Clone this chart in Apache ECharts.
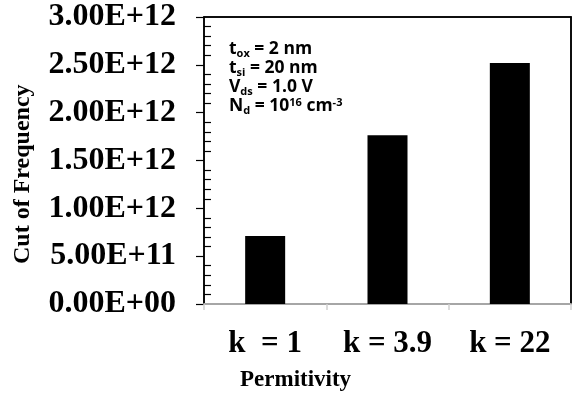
<!DOCTYPE html>
<html>
<head>
<meta charset="utf-8">
<script src="https://cdn.jsdelivr.net/npm/echarts@6/dist/echarts.min.js"></script>
<style>html,body{margin:0;padding:0;background:#fff}#c{width:573px;height:399px}</style>
</head>
<body>
<div id="c"></div>
<script>
var categories = ['k  = 1', 'k = 3.9', 'k = 22'];
var cutoffFrequency = [7.1e11, 1.765e12, 2.52e12];
var yTickLabels = ['0.00E+00', '5.00E+11', '1.00E+12', '1.50E+12', '2.00E+12', '2.50E+12', '3.00E+12'];
var xAxisTitle = 'Permitivity';
var yAxisTitle = 'Cut of Frequency';

var chart = echarts.init(document.getElementById('c'), null, {renderer: 'canvas'});
var serif = '"Liberation Serif", "Times New Roman", serif';
var option = {
  animation: false,
  backgroundColor: '#fff',
  grid: {left: 204, right: 2, top: 17, bottom: 95, containLabel: false, show: true, borderColor: '#000', borderWidth: 1.5, backgroundColor: 'transparent'},
  xAxis: [{
    type: 'category',
    data: categories,
    axisLine: {lineStyle: {color: '#a6a6a6', width: 2}},
    axisTick: {show: true, alignWithLabel: false, length: 6, lineStyle: {color: '#d0d0d0', width: 1.5}},
    axisLabel: {margin: 24, color: '#000', fontFamily: serif, fontWeight: 'bold', fontSize: 31}
  }, {
    type: 'category',
    position: 'top',
    data: categories,
    axisLine: {show: true, onZero: false, lineStyle: {color: '#000', width: 1.5}},
    axisTick: {show: false},
    axisLabel: {show: false}
  }],
  yAxis: [{
    type: 'value',
    min: 0,
    max: 3e12,
    interval: 5e11,
    splitLine: {show: false},
    axisLine: {show: true, onZero: false, lineStyle: {color: '#000', width: 1.5}},
    axisTick: {show: true, length: 8, lineStyle: {color: '#000', width: 1.2}},
    minorTick: {show: true, splitNumber: 5, length: -7, lineStyle: {color: '#000', width: 1.2}},
    axisLabel: {
      margin: 28, color: '#000', fontFamily: serif, fontWeight: 'bold', fontSize: 32,
      formatter: function (v) { return yTickLabels[Math.round(v / 5e11)]; }
    }
  }, {
    type: 'value',
    position: 'right',
    min: 0,
    max: 3e12,
    interval: 5e11,
    splitLine: {show: false},
    axisLine: {show: true, onZero: false, lineStyle: {color: '#000', width: 1.5}},
    axisTick: {show: false},
    axisLabel: {show: false}
  }],
  series: [{
    type: 'bar',
    data: cutoffFrequency,
    barWidth: 40,
    itemStyle: {color: '#000'}
  }],
  graphic: [{
    type: 'text',
    left: 240,
    top: 369,
    style: {text: xAxisTitle, fill: '#000', font: 'bold 23px ' + serif}
  }, {
    type: 'text',
    x: 11,
    y: 264,
    rotation: Math.PI / 2,
    style: {text: yAxisTitle, fill: '#000', font: 'bold 24px ' + serif, textVerticalAlign: 'top'}
  }, {
    type: 'text',
    x: 229,
    y: 40,
    style: {
      text: '{b|t}{s|ox}{b| = 2 nm}\n{b|t}{s|si}{b| = 20 nm}\n{b|V}{s|ds}{b| = 1.0 V}\n{b|N}{s|d}{b| = 10}{p|16}{b| cm}{p|-3}',
      fill: '#000',
      rich: {
        b: {fontFamily: '"Open Sans", sans-serif', fontWeight: 'bold', fontSize: 17.5, lineHeight: 19, fill: '#000'},
        s: {fontFamily: '"Open Sans", sans-serif', fontWeight: 'bold', fontSize: 11, lineHeight: 19, verticalAlign: 'bottom', fill: '#000'},
        p: {fontFamily: '"Open Sans", sans-serif', fontWeight: 'bold', fontSize: 11, lineHeight: 19, verticalAlign: 'top', fill: '#000'}
      }
    }
  }]
};
chart.setOption(option);
</script>
</body>
</html>
